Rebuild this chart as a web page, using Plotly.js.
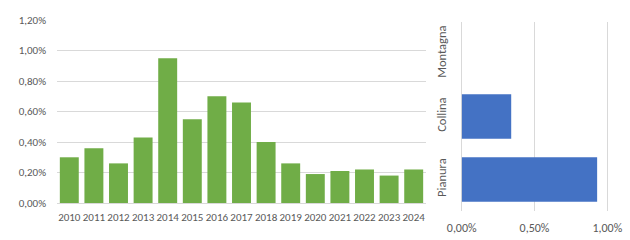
<!DOCTYPE html>
<html><head><meta charset="utf-8">
<script src="https://cdn.plot.ly/plotly-3.0.1.min.js"></script>
<style>body{margin:0;padding:0;background:#fff}#c{width:630px;height:240px}</style>
</head><body><div id="c"></div>
<script>
const years = ['2010','2011','2012','2013','2014','2015','2016','2017','2018','2019','2020','2021','2022','2023','2024'];
const yearValues = [0.0030,0.0036,0.0026,0.0043,0.0095,0.0055,0.0070,0.0066,0.0040,0.0026,0.0019,0.0021,0.0022,0.0018,0.0022];
const zones = ['Pianura','Collina','Montagna'];
const zoneValues = [0.0093,0.0034,0.0];

const fontFam = 'Carlito, "Liberation Sans Narrow", "Open Sans", sans-serif';
const grey = '#595959';
const gridC = '#d9d9d9';

const data = [
  {type:'bar', x:years, y:yearValues, marker:{color:'#70AD47'}, xaxis:'x', yaxis:'y', hoverinfo:'none'},
  {type:'bar', orientation:'h', y:zones, x:zoneValues, width:0.71, marker:{color:'#4472C4'}, xaxis:'x2', yaxis:'y2', hoverinfo:'none'}
];
const layout = {
  width:630, height:240,
  margin:{l:0,r:0,t:0,b:0},
  paper_bgcolor:'#fff', plot_bgcolor:'#fff',
  showlegend:false,
  separators:',.',
  font:{family:fontFam, size:11, color:grey},
  bargap:0.23,
  xaxis:{domain:[57/630,426/630], anchor:'y', type:'category', showgrid:false, zeroline:false, showline:false, ticks:'', ticklabelstandoff:6, tickfont:{size:11,color:grey}, fixedrange:true, tickangle:0},
  yaxis:{domain:[(240-203)/240,(240-20)/240], anchor:'x', range:[0,0.01201], dtick:0.002, tickformat:'.2%', showgrid:true, gridcolor:gridC, gridwidth:1, zeroline:true, zerolinecolor:gridC, showline:false, ticks:'', ticklabelstandoff:10, tickfont:{size:11,color:grey}},
  xaxis2:{domain:[461.7/630,611.7/630], anchor:'y2', range:[0,0.0103], tick0:0, dtick:0.005, tickformat:'.2%', showgrid:true, gridcolor:gridC, zeroline:true, zerolinecolor:gridC, showline:false, ticks:'', ticklabelstandoff:8, tickfont:{size:12,color:grey}},
  yaxis2:{domain:[(240-211)/240,(240-22)/240], anchor:'x2', type:'category', showgrid:false, zeroline:false, showline:false, ticks:'', tickangle:-90, ticklabelstandoff:12, tickfont:{size:12.5,color:grey}}
};
Plotly.newPlot('c', data, layout, {staticPlot:true});
</script></body></html>
